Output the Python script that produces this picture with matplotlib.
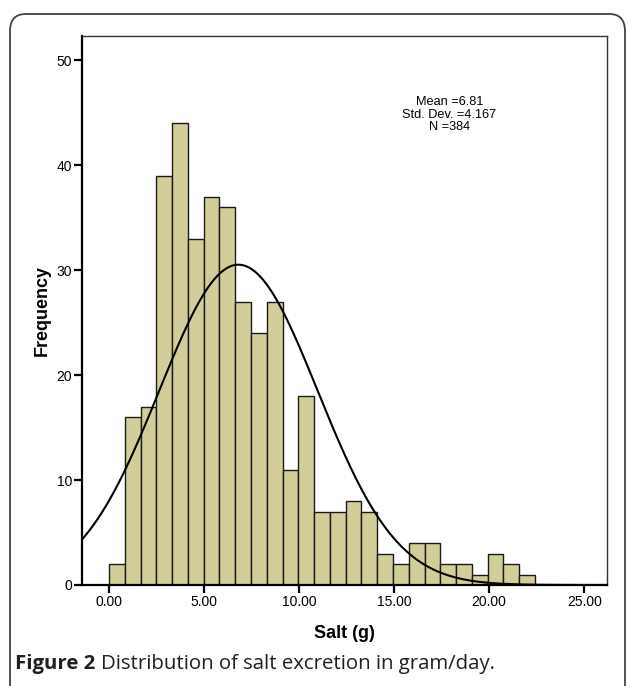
import numpy as np
import matplotlib.pyplot as plt
from matplotlib.patches import FancyBboxPatch

# histogram counts (27 bins)
counts = [2, 16, 17, 39, 44, 33, 37, 36, 27, 24, 27, 11, 18, 7, 7, 8, 7,
          3, 2, 4, 4, 2, 2, 1, 3, 2, 1]
bin_start = 0.0
bin_width = 0.83
mean = 6.81
sd = 4.167
n = 384
xticks = [0, 5, 10, 15, 20, 25]
yticks = [0, 10, 20, 30, 40, 50]

fig = plt.figure(figsize=(6.28, 6.86), dpi=100)
ax = fig.add_axes([82/628, 1-585/686, (607-82)/628, (585-36)/686])

lefts = bin_start + np.arange(len(counts)) * bin_width
ax.bar(lefts, counts, width=bin_width, align='edge', color='#d3ce99',
       edgecolor='#1a1a1a', linewidth=1.0, zorder=2)

# normal curve scaled to the histogram
xs = np.linspace(-1.42, 26.2, 400)
ys = n * bin_width / (sd * np.sqrt(2*np.pi)) * np.exp(-0.5*((xs-mean)/sd)**2)
ax.plot(xs, ys, color='black', lw=1.5, zorder=3)

ax.set_xlim(-1.42, 26.2)
ax.set_ylim(0, 52.3)
ax.set_xticks(xticks)
ax.set_xticklabels([f"{t:.2f}" for t in xticks], fontsize=10, family='Liberation Sans')
ax.set_yticks(yticks)
ax.set_yticklabels([str(t) for t in yticks], fontsize=10, family='Liberation Sans')
ax.tick_params(axis='both', length=6, width=1.6, direction='out', pad=1, color='black')

for s in ['left', 'bottom']:
    ax.spines[s].set_linewidth(1.6)
    ax.spines[s].set_color('black')
for s in ['top', 'right']:
    ax.spines[s].set_linewidth(1.0)
    ax.spines[s].set_color('#333333')

ax.set_xlabel('Salt (g)', fontsize=13, fontweight='bold', family='Liberation Sans', labelpad=12)
ax.set_ylabel('Frequency', fontsize=13, fontweight='bold', family='Liberation Sans', labelpad=4)

ax.text(0.70, 0.857, 'Mean =6.81\nStd. Dev. =4.167\nN =384', transform=ax.transAxes,
        ha='center', va='center', fontsize=9.2, family='Liberation Sans', linespacing=1.1)

# rounded frame around the figure
frame = FancyBboxPatch((10/628, -0.05), (625-10)/628, (1-14/686) + 0.05,
                       boxstyle='round,pad=0,rounding_size=0.025',
                       transform=fig.transFigure, facecolor='none',
                       edgecolor='#444444', linewidth=1.3, clip_on=False)
fig.patches.append(frame)

# caption: bold lead-in followed by regular text
cap_y = 1 - 664/686
t1 = fig.text(15/628, cap_y, 'Figure 2', fontsize=14.7, fontweight='bold',
              family='Open Sans', va='center', color='#231f20')
fig.canvas.draw()
bb = t1.get_window_extent()
fig.text((bb.x1 + 6)/628, cap_y, 'Distribution of salt excretion in gram/day.', fontsize=14.7,
         family='Open Sans', va='center', color='#231f20')

fig.savefig('out.png', dpi=100)
